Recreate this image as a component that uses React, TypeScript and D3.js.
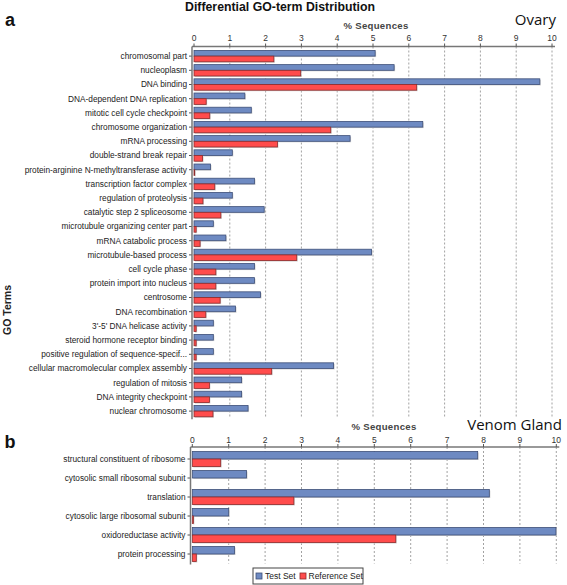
import React from "react";
import * as d3 from "d3";

const ovaryCategories = [
  "chromosomal part",
  "nucleoplasm",
  "DNA binding",
  "DNA-dependent DNA replication",
  "mitotic cell cycle checkpoint",
  "chromosome organization",
  "mRNA processing",
  "double-strand break repair",
  "protein-arginine N-methyltransferase activity",
  "transcription factor complex",
  "regulation of proteolysis",
  "catalytic step 2 spliceosome",
  "microtubule organizing center part",
  "mRNA catabolic process",
  "microtubule-based process",
  "cell cycle phase",
  "protein import into nucleus",
  "centrosome",
  "DNA recombination",
  "3'-5' DNA helicase activity",
  "steroid hormone receptor binding",
  "positive regulation of sequence-specif...",
  "cellular macromolecular complex assembly",
  "regulation of mitosis",
  "DNA integrity checkpoint",
  "nuclear chromosome",
];
const ovaryTest = [5.06, 5.59, 9.66, 1.42, 1.6, 6.39, 4.36, 1.07, 0.46, 1.69, 1.07, 1.96, 0.54, 0.89, 4.96, 1.69, 1.69, 1.86, 1.16, 0.54, 0.54, 0.54, 3.9, 1.33, 1.33, 1.51];
const ovaryRef = [2.23, 2.98, 6.22, 0.34, 0.44, 3.82, 2.33, 0.24, 0.02, 0.58, 0.25, 0.75, 0.06, 0.17, 2.87, 0.61, 0.61, 0.73, 0.33, 0.06, 0.06, 0.06, 2.17, 0.43, 0.43, 0.53];

const venomCategories = [
  "structural constituent of ribosome",
  "cytosolic small ribosomal subunit",
  "translation",
  "cytosolic large ribosomal subunit",
  "oxidoreductase activity",
  "protein processing",
];
const venomTest = [7.84, 1.49, 8.16, 1.0, 9.99, 1.16];
const venomRef = [0.78, 0, 2.79, 0.03, 5.59, 0.11];

const xTicks = [0, 1, 2, 3, 4, 5, 6, 7, 8, 9, 10];

const BLUE = "#6e8ac2";
const BLUE_STROKE = "#3e4f78";
const RED = "#ff4c4c";
const RED_STROKE = "#8e2b2b";
const FONT = "'Liberation Sans', Arial, sans-serif";

type PanelProps = {
  cats: string[];
  test: number[];
  ref: number[];
  x0: number;
  x1: number;
  yTop: number;
  step: number;
  barFrac: number;
  axisY: number;
  axisX: number;
  seqLabelX: number;
  seqLabelY: number;
  tickLabelY: number;
  title: string;
  titleX: number;
  titleY: number;
};

function Panel(p: PanelProps) {
  const x = d3.scaleLinear().domain([0, 10]).range([p.x0, p.x1]);
  const yBottom = p.yTop + p.cats.length * p.step;
  const y = d3
    .scaleBand<string>()
    .domain(p.cats)
    .range([p.yTop, yBottom])
    .paddingInner(1 - p.barFrac)
    .paddingOuter((1 - p.barFrac) / 2);
  const bw = y.bandwidth() / 2;
  const w = (v: number) => Math.max(0, x(v) - x(0));
  return (
    <g>
      {xTicks.slice(1).map((t) => (
        <line
          key={"g" + t}
          x1={x(t)}
          x2={x(t)}
          y1={p.axisY}
          y2={yBottom}
          stroke="#8a8a8a"
          strokeWidth={0.8}
          strokeDasharray="2,2"
        />
      ))}
      {p.cats.map((c, i) => {
        const yy = y(c) as number;
        return (
          <g key={c}>
            {p.test[i] > 0 && <rect x={x(0) + 1} y={yy + 1} width={w(p.test[i])} height={bw} fill="#d2d2d2" />}
            {p.ref[i] > 0 && <rect x={x(0) + 1} y={yy + bw + 1} width={w(p.ref[i])} height={bw} fill="#d2d2d2" />}
            <rect x={x(0)} y={yy} width={w(p.test[i])} height={bw} fill={BLUE} stroke={BLUE_STROKE} strokeWidth={0.8} />
            {p.ref[i] > 0 && (
              <rect x={x(0)} y={yy + bw} width={w(p.ref[i])} height={bw} fill={RED} stroke={RED_STROKE} strokeWidth={0.8} />
            )}
            <line x1={p.axisX - 3} x2={p.axisX} y1={yy + bw} y2={yy + bw} stroke="#555" strokeWidth={1} />
            <text x={p.axisX - 5} y={yy + bw} dy="0.35em" textAnchor="end" fontSize={8.3} fill="#222" fontFamily={FONT}>
              {c}
            </text>
          </g>
        );
      })}
      <line x1={p.axisX} x2={p.axisX} y1={p.axisY} y2={yBottom + 1} stroke="#777" strokeWidth={1.5} />
      <line x1={p.axisX} x2={x(10) + 3} y1={p.axisY} y2={p.axisY} stroke="#777" strokeWidth={1.5} />
      {xTicks.map((t) => (
        <g key={"t" + t}>
          <line x1={x(t)} x2={x(t)} y1={p.axisY - 3} y2={p.axisY} stroke="#555" strokeWidth={1} />
          <text x={x(t)} y={p.tickLabelY} dy="0.35em" textAnchor="middle" fontSize={8.5} fill="#333" fontFamily={FONT}>
            {t}
          </text>
        </g>
      ))}
      <text x={p.seqLabelX} y={p.seqLabelY} dy="0.35em" textAnchor="middle" fontSize={9.6} fontWeight="bold" fill="#444" fontFamily={FONT} letterSpacing={0.3}>
        % Sequences
      </text>
      <text x={p.titleX} y={p.titleY} dy="0.35em" textAnchor="end" fontSize={15} fill="#111" fontFamily="'Open Sans', sans-serif">
        {p.title}
      </text>
    </g>
  );
}

export default function App() {
  const W = 567;
  const H = 585;
  return (
    <svg width={W} height={H} style={{ position: "absolute", left: 0, top: 0, background: "#fff" }}>
      <rect width={W} height={H} fill="#fff" />
      <text x={280} y={6.5} dy="0.35em" textAnchor="middle" fontSize={12.3} fontWeight="bold" fill="#111" fontFamily={FONT}>
        Differential GO-term Distribution
      </text>
      <text x={10} y={20} dy="0.35em" textAnchor="middle" fontSize={18} fontWeight="bold" fill="#111" fontFamily={FONT}>
        a
      </text>
      <text x={10} y={442} dy="0.35em" textAnchor="middle" fontSize={18} fontWeight="bold" fill="#111" fontFamily={FONT}>
        b
      </text>
      <text transform="translate(7,310) rotate(-90)" dy="0.35em" textAnchor="middle" fontSize={10.5} fontWeight="bold" fill="#222" fontFamily={FONT}>
        GO Terms
      </text>
      <Panel
        cats={ovaryCategories}
        test={ovaryTest}
        ref={ovaryRef}
        x0={194}
        x1={552}
        yTop={49}
        step={14.2}
        barFrac={0.8}
        axisY={46.5}
        axisX={192}
        seqLabelX={376}
        seqLabelY={26}
        tickLabelY={38}
        title="Ovary"
        titleX={556}
        titleY={20}
      />
      <Panel
        cats={venomCategories}
        test={venomTest}
        ref={venomRef}
        x0={192.3}
        x1={556.3}
        yTop={449.5}
        step={19}
        barFrac={0.79}
        axisY={447}
        axisX={190.5}
        seqLabelX={384}
        seqLabelY={427}
        tickLabelY={440}
        title="Venom Gland"
        titleX={562}
        titleY={425}
      />
      <g>
        <rect x={253} y={568} width={110} height={16} fill="#fff" stroke="#444" strokeWidth={1} />
        <rect x={256} y={573} width={6} height={6} fill={BLUE} stroke={BLUE_STROKE} strokeWidth={0.8} />
        <text x={265} y={576} dy="0.35em" fontSize={8.5} fill="#222" fontFamily={FONT}>
          Test Set
        </text>
        <rect x={300} y={573} width={6} height={6} fill={RED} stroke={RED_STROKE} strokeWidth={0.8} />
        <text x={308.5} y={576} dy="0.35em" fontSize={8.5} fill="#222" fontFamily={FONT}>
          Reference Set
        </text>
      </g>
    </svg>
  );
}
